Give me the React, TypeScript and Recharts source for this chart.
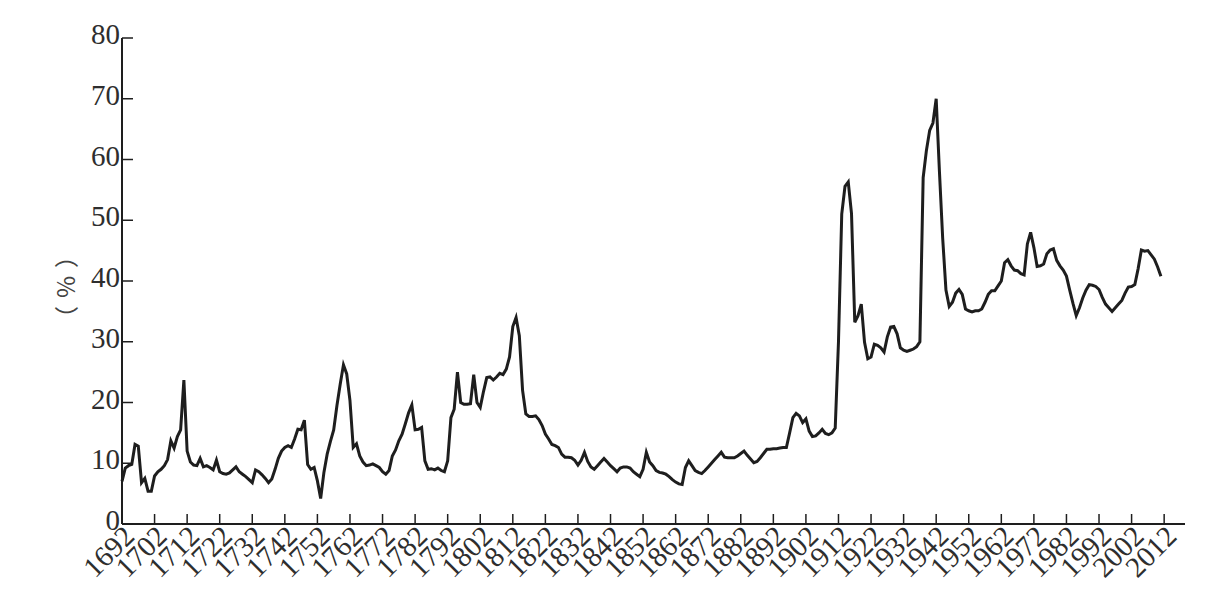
import React from "react";
import { LineChart, Line, XAxis, YAxis } from "recharts";

// years and values (annual, %)
const years = [
  1692, 1693, 1694, 1695, 1696, 1697, 1698, 1699, 1700, 1701, 1702, 1703, 1704, 1705, 1706, 1707, 1708, 1709, 1710, 1711,
  1712, 1713, 1714, 1715, 1716, 1717, 1718, 1719, 1720, 1721, 1722, 1723, 1724, 1725, 1726, 1727, 1728, 1729, 1730, 1731,
  1732, 1733, 1734, 1735, 1736, 1737, 1738, 1739, 1740, 1741, 1742, 1743, 1744, 1745, 1746, 1747, 1748, 1749, 1750, 1751,
  1752, 1753, 1754, 1755, 1756, 1757, 1758, 1759, 1760, 1761, 1762, 1763, 1764, 1765, 1766, 1767, 1768, 1769, 1770, 1771,
  1772, 1773, 1774, 1775, 1776, 1777, 1778, 1779, 1780, 1781, 1782, 1783, 1784, 1785, 1786, 1787, 1788, 1789, 1790, 1791,
  1792, 1793, 1794, 1795, 1796, 1797, 1798, 1799, 1800, 1801, 1802, 1803, 1804, 1805, 1806, 1807, 1808, 1809, 1810, 1811,
  1812, 1813, 1814, 1815, 1816, 1817, 1818, 1819, 1820, 1821, 1822, 1823, 1824, 1825, 1826, 1827, 1828, 1829, 1830, 1831,
  1832, 1833, 1834, 1835, 1836, 1837, 1838, 1839, 1840, 1841, 1842, 1843, 1844, 1845, 1846, 1847, 1848, 1849, 1850, 1851,
  1852, 1853, 1854, 1855, 1856, 1857, 1858, 1859, 1860, 1861, 1862, 1863, 1864, 1865, 1866, 1867, 1868, 1869, 1870, 1871,
  1872, 1873, 1874, 1875, 1876, 1877, 1878, 1879, 1880, 1881, 1882, 1883, 1884, 1885, 1886, 1887, 1888, 1889, 1890, 1891,
  1892, 1893, 1894, 1895, 1896, 1897, 1898, 1899, 1900, 1901, 1902, 1903, 1904, 1905, 1906, 1907, 1908, 1909, 1910, 1911,
  1912, 1913, 1914, 1915, 1916, 1917, 1918, 1919, 1920, 1921, 1922, 1923, 1924, 1925, 1926, 1927, 1928, 1929, 1930, 1931,
  1932, 1933, 1934, 1935, 1936, 1937, 1938, 1939, 1940, 1941, 1942, 1943, 1944, 1945, 1946, 1947, 1948, 1949, 1950, 1951,
  1952, 1953, 1954, 1955, 1956, 1957, 1958, 1959, 1960, 1961, 1962, 1963, 1964, 1965, 1966, 1967, 1968, 1969, 1970, 1971,
  1972, 1973, 1974, 1975, 1976, 1977, 1978, 1979, 1980, 1981, 1982, 1983, 1984, 1985, 1986, 1987, 1988, 1989, 1990, 1991,
  1992, 1993, 1994, 1995, 1996, 1997, 1998, 1999, 2000, 2001, 2002, 2003, 2004, 2005, 2006, 2007, 2008, 2009, 2010, 2011,
];

const shares = [
  7.0, 9.2, 9.6, 9.8, 13.1, 12.8, 6.8, 7.5, 5.4, 5.4, 7.9, 8.6, 9.0, 9.6, 10.6, 13.7, 12.5, 14.4, 15.5, 23.7,
  12.0, 10.2, 9.7, 9.6, 10.8, 9.4, 9.6, 9.3, 8.9, 10.5, 8.6, 8.3, 8.2, 8.4, 8.9, 9.4, 8.6, 8.2, 7.8, 7.3,
  6.8, 8.9, 8.6, 8.1, 7.5, 6.8, 7.4, 9.0, 10.8, 12.0, 12.6, 12.9, 12.6, 14.0, 15.6, 15.5, 17.1, 9.8, 9.0, 9.3,
  7.1, 4.2, 8.5, 11.5, 13.6, 15.5, 19.5, 23.0, 26.2, 24.7, 20.3, 12.6, 13.2, 11.2, 10.2, 9.6, 9.7, 9.9, 9.6, 9.3,
  8.6, 8.2, 8.8, 11.2, 12.2, 13.7, 14.8, 16.5, 18.3, 19.6, 15.5, 15.6, 15.9, 10.4, 9.0, 9.1, 8.9, 9.2, 8.8, 8.6,
  10.4, 17.5, 18.9, 25.0, 20.0, 19.7, 19.7, 19.8, 24.6, 20.0, 19.2, 21.8, 24.1, 24.2, 23.7, 24.2, 24.8, 24.6, 25.5, 27.5,
  32.5, 34.0, 31.0, 22.0, 18.1, 17.7, 17.7, 17.8, 17.2, 16.2, 14.8, 14.0, 13.1, 12.9, 12.6, 11.5, 11.0, 11.0, 10.9, 10.5,
  9.7, 10.5, 11.8, 10.3, 9.4, 9.0, 9.6, 10.2, 10.8, 10.2, 9.6, 9.1, 8.6, 9.2, 9.4, 9.4, 9.2, 8.6, 8.2, 7.8,
  9.0, 11.8, 10.2, 9.6, 8.8, 8.5, 8.4, 8.2, 7.8, 7.3, 6.9, 6.6, 6.5, 9.3, 10.4, 9.6, 8.8, 8.5, 8.3, 8.8,
  9.4, 10.0, 10.6, 11.2, 11.8, 11.0, 10.9, 10.9, 10.9, 11.2, 11.6, 12.0, 11.3, 10.7, 10.1, 10.3, 10.9, 11.6, 12.3, 12.3,
  12.4, 12.4, 12.5, 12.6, 12.6, 15.0, 17.5, 18.2, 17.8, 16.7, 17.3, 15.3, 14.4, 14.5, 15.0, 15.6, 14.9, 14.7, 15.0, 15.8,
  30.0, 51.0, 55.6, 56.3, 51.1, 33.2, 34.3, 36.2, 29.9, 27.2, 27.5, 29.6, 29.4, 29.0, 28.3, 30.8, 32.4, 32.5, 31.3, 29.0,
  28.6, 28.4, 28.6, 28.8, 29.2, 30.0, 57.0, 61.5, 64.8, 66.0, 70.0, 58.0, 47.0, 38.5, 35.8, 36.5, 38.0, 38.6, 37.8, 35.4,
  35.1, 34.9, 35.1, 35.1, 35.4, 36.5, 37.8, 38.4, 38.4, 39.2, 40.0, 43.0, 43.5, 42.5, 41.8, 41.7, 41.2, 41.0, 46.1, 48.0,
  45.5, 42.4, 42.5, 42.8, 44.5, 45.1, 45.3, 43.4, 42.5, 41.8, 40.8, 38.5, 36.3, 34.3, 35.6, 37.2, 38.5, 39.4, 39.3, 39.1,
  38.6, 37.3, 36.2, 35.6, 35.0, 35.6, 36.2, 36.8, 38.0, 39.0, 39.1, 39.4, 42.0, 45.1, 44.9, 45.0, 44.3, 43.6, 42.3, 40.8,
];

const xTicks = [
  1692, 1702, 1712, 1722, 1732, 1742, 1752, 1762, 1772, 1782, 1792, 1802, 1812, 1822, 1832, 1842, 1852,
  1862, 1872, 1882, 1892, 1902, 1912, 1922, 1932, 1942, 1952, 1962, 1972, 1982, 1992, 2002, 2012,
];
const yTicks = [0, 10, 20, 30, 40, 50, 60, 70, 80];
const yLabel = "（%）";

const data = years.map((year, i) => ({ year, share: shares[i] }));

const INK = "#1e1e1e";
const TEXT = "#2e2e2e";
const FONT = "'Liberation Serif', 'Times New Roman', serif";

// ticks point inward, so draw tick line + label together
const XTick = ({ x, y, payload }: any) => {
  const ax = x + 14;
  const ay = y + 14;
  return (
    <g>
      <line x1={x} y1={y} x2={x} y2={y - 10} stroke={INK} strokeWidth={1.5} />
      <text
        x={ax}
        y={ay}
        textAnchor="end"
        transform={`rotate(-45, ${ax}, ${ay})`}
        fill={TEXT}
        fontFamily={FONT}
        fontSize={29}
      >
        {payload.value}
      </text>
    </g>
  );
};

const YTick = ({ x, y, payload }: any) => (
  <g>
    <line x1={x} y1={y} x2={x + 11} y2={y} stroke={INK} strokeWidth={1.5} />
    <text x={x - 2} y={y + 6} textAnchor="end" fill={TEXT} fontFamily={FONT} fontSize={29}>
      {payload.value}
    </text>
  </g>
);

const YLabel = () => (
  <text
    x={64}
    y={283}
    textAnchor="middle"
    dominantBaseline="central"
    transform="rotate(-90, 64, 283)"
    fill="#444"
    fontFamily="'Noto Sans CJK SC', 'Noto Sans CJK JP', sans-serif"
    fontSize={24}
    letterSpacing={8}
  >
    {yLabel}
  </text>
);

export default function App() {
  return (
    <div style={{ position: "absolute", left: 0, top: 0, background: "#fff" }}>
      <LineChart width={1207} height={601} data={data} margin={{ top: 38, right: 22, bottom: 0, left: 0 }}>
        <XAxis
          dataKey="year"
          type="number"
          domain={[1692, 2018.4]}
          ticks={xTicks}
          interval={0}
          height={77}
          tickSize={0}
          tickMargin={0}
          tickLine={false}
          axisLine={{ stroke: INK, strokeWidth: 2 }}
          tick={<XTick />}
        />
        <YAxis
          type="number"
          domain={[0, 80]}
          ticks={yTicks}
          interval={0}
          width={122}
          tickSize={0}
          tickMargin={0}
          tickLine={false}
          axisLine={{ stroke: INK, strokeWidth: 2 }}
          tick={<YTick />}
          label={<YLabel />}
        />
        <Line
          type="linear"
          dataKey="share"
          stroke={INK}
          strokeWidth={3}
          dot={false}
          isAnimationActive={false}
        />
      </LineChart>
    </div>
  );
}
